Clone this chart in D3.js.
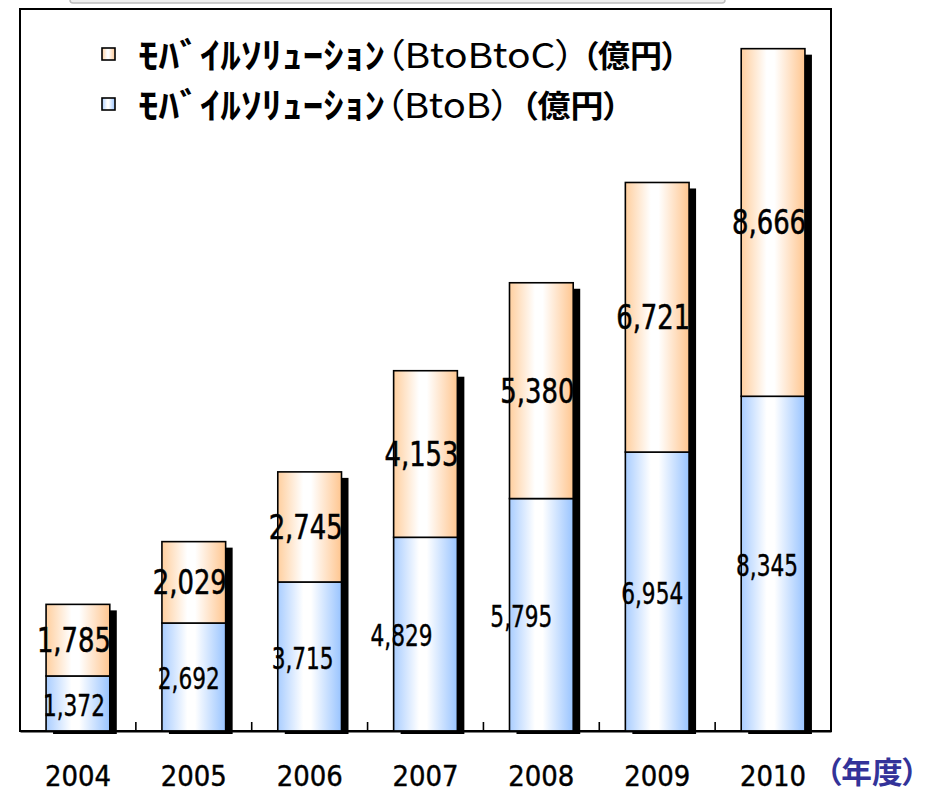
<!DOCTYPE html>
<html>
<head>
<meta charset="utf-8">
<script src="https://cdn.jsdelivr.net/npm/d3@7"></script>
<style>
body{margin:0;background:#fff;}
.cjk{font-family:'Noto Sans CJK JP', sans-serif; font-feature-settings:"palt";}
</style>
</head>
<body>
<div id="chart"></div>
<script>
// data (億円)
const years = ["2004", "2005", "2006", "2007", "2008", "2009", "2010"];
const btob = [1372, 2692, 3715, 4829, 5795, 6954, 8345];
const btobtoc = [1785, 2029, 2745, 4153, 5380, 6721, 8666];
// legend text, split in the pieces the original font spaces differently
const legendBtoBtoC = ["ﾓﾊﾞｲﾙｿﾘｭｰｼｮﾝ", "（BtoBtoC）", "（億円）"];
const legendBtoB = ["ﾓﾊﾞｲﾙｿﾘｭｰｼｮﾝ", "（BtoB）", "（億円）"];
const unitLabel = "（年度）";

// small sideways nudges of the blue value labels, as in the original
const blueShift = [-4, -5, -7, -24, -20, -5, -6];

const W = 935, H = 794;
const frame = {left: 20, top: 9, right: 831, bottom: 731};

const svg = d3.select("#chart").append("svg")
    .attr("width", W)
    .attr("height", H);

const defs = svg.append("defs");
function gradient(id, edgeL, edgeR) {
    const g = defs.append("linearGradient").attr("id", id)
        .attr("x1", "0%").attr("x2", "100%").attr("y1", "0%").attr("y2", "0%");
    g.append("stop").attr("offset", "0%").attr("stop-color", edgeL);
    g.append("stop").attr("offset", "40%").attr("stop-color", "#ffffff");
    g.append("stop").attr("offset", "52%").attr("stop-color", "#ffffff");
    g.append("stop").attr("offset", "100%").attr("stop-color", edgeR);
}
gradient("gOrange", "#ffcf9f", "#ffc690");
gradient("gBlue", "#a9cdff", "#99c4ff");

// grey strip cut off at the top
svg.append("rect")
    .attr("x", 70).attr("y", -10)
    .attr("width", 655).attr("height", 13)
    .attr("rx", 3)
    .attr("fill", "#eeeeee")
    .attr("stroke", "#bdbdbd")
    .attr("stroke-width", 1.5);

const x = d3.scaleBand()
    .domain(years)
    .range([frame.left, frame.right])
    .paddingInner(0.45)
    .paddingOuter(0.225);

const y = d3.scaleLinear()
    .domain([0, 18000])
    .range([frame.bottom, frame.top]);

const rows = years.map((yr, i) => ({year: yr, b: btob[i], c: btobtoc[i], shift: blueShift[i]}));

// frame
svg.append("rect")
    .attr("x", frame.left).attr("y", frame.top)
    .attr("width", frame.right - frame.left)
    .attr("height", frame.bottom - frame.top)
    .attr("fill", "none")
    .attr("stroke", "#000")
    .attr("stroke-width", 2);

// shadows
svg.selectAll()
    .data(rows)
    .enter()
    .append("rect")
    .attr("x", d => x(d.year) + 7)
    .attr("y", d => y(d.b + d.c) + 6)
    .attr("width", x.bandwidth())
    .attr("height", d => frame.bottom + 3 - (y(d.b + d.c) + 6))
    .attr("fill", "#000");

// blue (BtoB)
svg.selectAll()
    .data(rows)
    .enter()
    .append("rect")
    .attr("x", d => x(d.year))
    .attr("y", d => y(d.b))
    .attr("width", x.bandwidth())
    .attr("height", d => y(0) - y(d.b))
    .attr("fill", "url(#gBlue)")
    .attr("stroke", "#000")
    .attr("stroke-width", 1.6);

// orange (BtoBtoC)
svg.selectAll()
    .data(rows)
    .enter()
    .append("rect")
    .attr("x", d => x(d.year))
    .attr("y", d => y(d.b + d.c))
    .attr("width", x.bandwidth())
    .attr("height", d => y(d.b) - y(d.b + d.c))
    .attr("fill", "url(#gOrange)")
    .attr("stroke", "#000")
    .attr("stroke-width", 1.6);

// x axis with ticks between categories
const axis = d3.axisBottom(x).tickSize(0).tickFormat("");
svg.append("g")
    .attr("transform", "translate(0," + frame.bottom + ")")
    .call(axis)
    .call(g => g.select(".domain").attr("stroke", "#000").attr("stroke-width", 2));

const step = x.step();
svg.selectAll()
    .data(years.slice(1))
    .enter()
    .append("line")
    .attr("x1", d => x(d) - x.paddingInner() * step / 2)
    .attr("x2", d => x(d) - x.paddingInner() * step / 2)
    .attr("y1", frame.bottom - 9)
    .attr("y2", frame.bottom)
    .attr("stroke", "#000")
    .attr("stroke-width", 1.6);

const fmt = d3.format(",");
const numFont = "'Liberation Sans Narrow', 'DejaVu Sans Condensed', 'Arial Narrow', sans-serif";

// value labels
svg.selectAll()
    .data(rows)
    .enter()
    .append("text")
    .attr("x", d => x(d.year) + x.bandwidth() / 2 - 4)
    .attr("y", d => (y(d.b) + y(d.b + d.c)) / 2)
    .attr("dy", "0.36em")
    .attr("text-anchor", "middle")
    .attr("font-family", numFont)
    .attr("font-size", 33)
    .attr("textLength", 74)
    .attr("lengthAdjust", "spacingAndGlyphs")
    .attr("fill", "#000")
    .attr("stroke", "#000")
    .attr("stroke-width", 0.5)
    .text(d => fmt(d.c));

svg.selectAll()
    .data(rows)
    .enter()
    .append("text")
    .attr("x", d => x(d.year) + x.bandwidth() / 2 + d.shift)
    .attr("y", d => (y(0) + y(d.b)) / 2 + 1)
    .attr("dy", "0.36em")
    .attr("text-anchor", "middle")
    .attr("font-family", numFont)
    .attr("font-size", 31)
    .attr("textLength", 62)
    .attr("lengthAdjust", "spacingAndGlyphs")
    .attr("fill", "#000")
    .attr("stroke", "#000")
    .attr("stroke-width", 0.4)
    .text(d => fmt(d.b));

// category labels
svg.selectAll()
    .data(years)
    .enter()
    .append("text")
    .attr("x", d => x(d) + x.bandwidth() / 2)
    .attr("y", 786)
    .attr("text-anchor", "middle")
    .attr("font-family", numFont)
    .attr("font-size", 29)
    .attr("textLength", 66)
    .attr("lengthAdjust", "spacingAndGlyphs")
    .attr("fill", "#000")
    .attr("stroke", "#000")
    .attr("stroke-width", 0.4)
    .text(d => d);

svg.append("text")
    .attr("class", "cjk")
    .attr("x", 826)
    .attr("y", 772)
    .attr("dy", "0.36em")
    .attr("font-weight", "bold")
    .attr("font-size", 30)
    .attr("textLength", 92)
    .attr("lengthAdjust", "spacingAndGlyphs")
    .attr("fill", "#333399")
    .text(unitLabel);

// legend
const legendRows = [
    {parts: legendBtoBtoC, fill: "url(#gOrange)", cy: 56, spans: [[138, 247], [385, 190], [582, 96]]},
    {parts: legendBtoB, fill: "url(#gBlue)", cy: 106, spans: [[138, 247], [385, 125], [521, 99]]}
];
const pieceSize = [36, 34, 31];
const pieceWeight = ["bold", "normal", "bold"];
const lg = svg.append("g");
legendRows.forEach(r => {
    lg.append("rect")
        .attr("x", 102).attr("y", r.cy - 8)
        .attr("width", 13).attr("height", 12)
        .attr("fill", r.fill)
        .attr("stroke", "#000")
        .attr("stroke-width", 1.6);
    r.parts.forEach((p, k) => {
        lg.append("text")
            .attr("class", "cjk")
            .attr("x", r.spans[k][0])
            .attr("y", r.cy)
            .attr("dy", "0.36em")
            .attr("font-weight", pieceWeight[k])
            .attr("font-size", pieceSize[k])
            .attr("textLength", r.spans[k][1])
            .attr("lengthAdjust", "spacingAndGlyphs")
            .attr("fill", "#000")
            .text(p);
    });
});
</script>
</body>
</html>
